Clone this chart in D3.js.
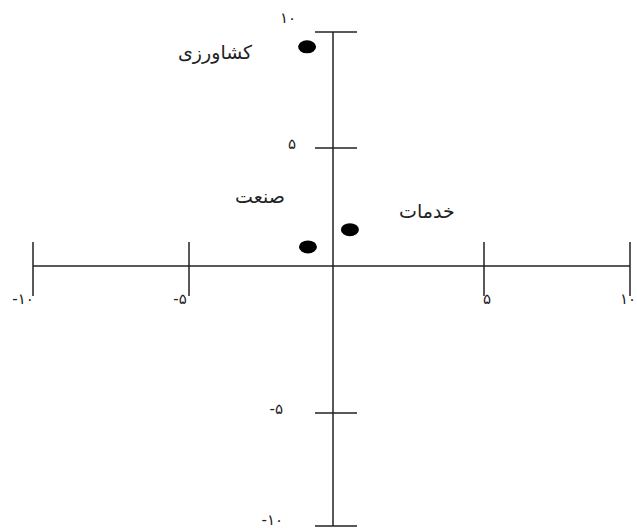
<!DOCTYPE html>
<html>
<head>
<meta charset="utf-8">
<script src="https://cdn.jsdelivr.net/npm/d3@7"></script>
<style>
  body { margin: 0; background: #fff; }
  text { font-family: "DejaVu Sans", sans-serif; fill: #222; }
</style>
</head>
<body>
<div id="chart-area"></div>
<script>
// sectors and their positions on the plane
const sectors = ["کشاورزی", "صنعت", "خدمات"];
const xValues = [-0.9, -0.87, 0.56];
const yValues = [9.36, 0.81, 1.54];

// tick values and the persian labels
const tickValues = [-10, -5, 5, 10];
const tickLabels = ["-۱۰", "-۵", "۵", "۱۰"];

const width = 637,
    height = 528;

// the original figure is hand drawn, so ticks are not evenly spaced
const x = d3.scaleLinear()
    .domain([-10, -5, 0, 5, 10])
    .range([33, 189, 333, 484, 630]);

const y = d3.scaleLinear()
    .domain([-10, -5, 0, 5, 10])
    .range([526, 413, 266, 148, 32]);

const svg = d3.select("#chart-area")
    .append("svg")
    .attr("width", width)
    .attr("height", height);

const axes = svg.append("g")
    .attr("stroke", "#222")
    .attr("stroke-width", 1.5);

// horizontal axis
axes.append("line")
    .attr("x1", x(-10)).attr("x2", x(10))
    .attr("y1", y(0)).attr("y2", y(0));

axes.selectAll(".xtick")
    .data(tickValues)
    .join("line")
    .attr("class", "xtick")
    .attr("x1", d => x(d)).attr("x2", d => x(d))
    .attr("y1", y(0) - 24).attr("y2", y(0) + 30);

// vertical axis
axes.append("line")
    .attr("x1", x(0)).attr("x2", x(0))
    .attr("y1", y(10)).attr("y2", y(-10));

axes.selectAll(".ytick")
    .data(tickValues)
    .join("line")
    .attr("class", "ytick")
    .attr("x1", x(0) - 18).attr("x2", x(0) + 24)
    .attr("y1", d => y(d)).attr("y2", d => y(d));

// tick labels
const xLabelDx = [-10, -9, 3, 0];

svg.selectAll(".xlabel")
    .data(tickValues)
    .join("text")
    .attr("class", "xlabel")
    .attr("x", (d, i) => d == 10 ? width - 1 : x(d) + xLabelDx[i])
    .attr("y", y(0) + 38)
    .attr("text-anchor", d => d == 10 ? "end" : "middle")
    .attr("font-size", 15)
    .text((d, i) => tickLabels[i]);

svg.selectAll(".ylabel")
    .data(tickValues)
    .join("text")
    .attr("class", "ylabel")
    .attr("x", d => x(0) + (d < 0 ? -50 : -37))
    .attr("y", d => y(d) + (d == 10 ? -9 : d == -10 ? -1 : 1))
    .attr("text-anchor", "end")
    .attr("font-size", 15)
    .text((d, i) => tickLabels[i]);

// points
svg.selectAll(".dot")
    .data(sectors)
    .join("ellipse")
    .attr("class", "dot")
    .attr("cx", (d, i) => x(xValues[i]))
    .attr("cy", (d, i) => y(yValues[i]))
    .attr("rx", 9)
    .attr("ry", 6.5)
    .attr("fill", "#000");

// sector names, placed beside their points
const labelDx = [-92, -48, 77];
const labelDy = [12, -44, -12];

svg.selectAll(".name")
    .data(sectors)
    .join("text")
    .attr("class", "name")
    .attr("x", (d, i) => x(xValues[i]) + labelDx[i])
    .attr("y", (d, i) => y(yValues[i]) + labelDy[i])
    .attr("text-anchor", "middle")
    .attr("font-size", 19)
    .text(d => d);
</script>
</body>
</html>
